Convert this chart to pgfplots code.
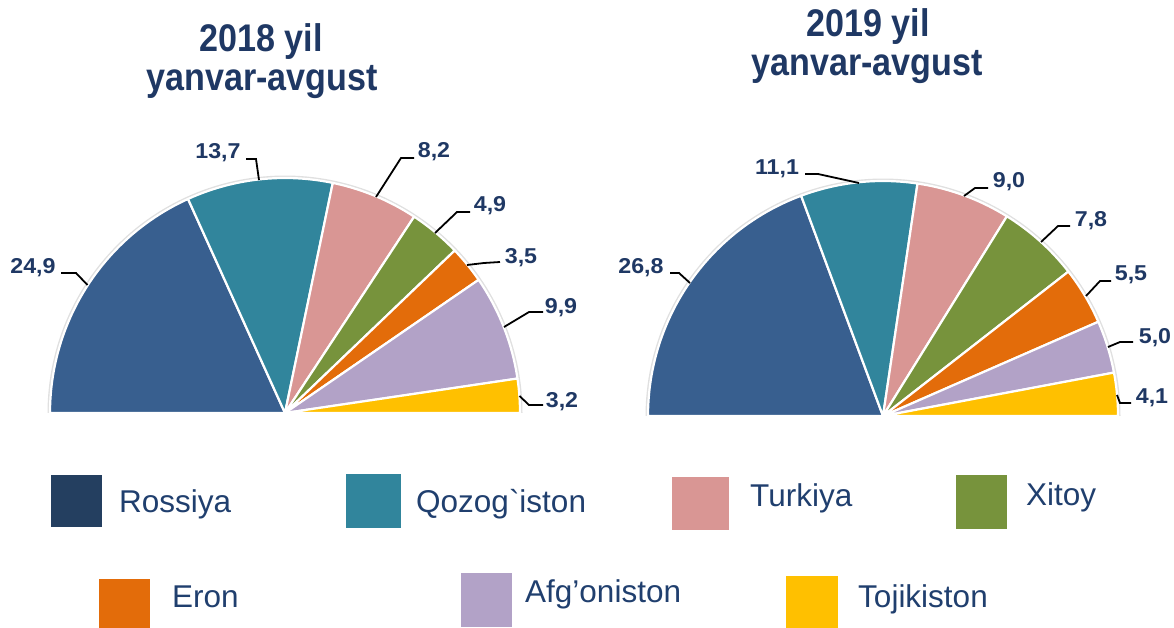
\documentclass[border=0pt]{standalone}
\usepackage{pgfplots}
\usepackage{pgfplotstable}
\pgfplotsset{compat=1.18}
\usepackage{fontspec}
\setmainfont{Liberation Sans}
\definecolor{c0}{HTML}{385F8F}
\definecolor{c1}{HTML}{31859C}
\definecolor{c2}{HTML}{D99694}
\definecolor{c3}{HTML}{77933C}
\definecolor{c4}{HTML}{E36C0A}
\definecolor{c5}{HTML}{B2A2C7}
\definecolor{c6}{HTML}{FFC000}
\definecolor{legR}{HTML}{243F60}
\definecolor{navy}{HTML}{1F3864}
\definecolor{legtxt}{HTML}{203F6E}

\pgfplotstableread{
country v2018 v2019
Rossiya 24.9 26.8
Qozogiston 13.7 11.1
Turkiya 8.2 9.0
Xitoy 4.9 7.8
Eron 3.5 5.5
Afgoniston 9.9 5.0
Tojikiston 3.2 4.1
}\data

\newcommand\drawpie[3]{% column, cx, cy
  \def\tot{0}%
  \pgfplotsforeachungrouped \i in {0,...,6}{%
    \pgfplotstablegetelem{\i}{#1}\of\data
    \pgfmathsetmacro\tot{\tot+\pgfplotsretval}}%
  \edef\tmp{\noexpand\addplot[draw=black!12, line width=5pt, domain=0:180, samples=120, variable=\noexpand\t] ({#2+235*cos(\noexpand\t)}, {#3-235*sin(\noexpand\t)});}%
  \tmp
  \def\cum{0}%
  \pgfplotsforeachungrouped \i in {0,...,6}{%
    \pgfplotstablegetelem{\i}{#1}\of\data
    \pgfmathsetmacro\aS{180-180*\cum/\tot}%
    \pgfmathsetmacro\cum{\cum+\pgfplotsretval}%
    \pgfmathsetmacro\aE{180-180*\cum/\tot}%
    \edef\tmp{\noexpand\addplot[fill=c\i, draw=white, line width=2.2pt, line join=round, domain=\aE:\aS, samples=80, variable=\noexpand\t] ({#2+235*cos(\noexpand\t)}, {#3-235*sin(\noexpand\t)}) -- (#2,#3) -- cycle;}%
    \tmp}%
}

\tikzset{
  val/.style={font=\fontsize{21.5}{26}\selectfont\bfseries, text=navy, anchor=base, inner sep=0pt, xscale=1.08},
  ttl/.style={font=\fontsize{38.5}{44}\selectfont\bfseries, text=navy, anchor=base, inner sep=0pt, xscale=0.886},
  leg/.style={font=\fontsize{31.5}{36}\selectfont, text=legtxt, anchor=base west, inner sep=0pt},
  ld/.style={black, line width=1.8pt}
}

\begin{document}
\begin{tikzpicture}
\begin{axis}[x=1pt, y=1pt, xmin=0, xmax=1174, ymin=0, ymax=628, y dir=reverse, hide axis, clip=false]
\drawpie{v2018}{285}{413}
\drawpie{v2019}{883}{416}

% titles
\node[ttl] at (261,52) {2018 yil};
\node[ttl] at (262,91) {yanvar-avgust};
\node[ttl] at (868,37) {2019 yil};
\node[ttl] at (867,76) {yanvar-avgust};

% 2018 labels
\draw[ld] (61,273) -- (76,273) -- (87.5,285);
\node[val] at (33,273) {24,9};
\draw[ld] (246,159) -- (256,159) -- (259,180);
\node[val] at (218,159) {13,7};
\draw[ld] (414,158) -- (401,158) -- (376,197);
\node[val] at (434,158) {8,2};
\draw[ld] (470,212) -- (457,212) -- (435,233);
\node[val] at (490,212) {4,9};
\draw[ld] (500,262) -- (484,263) -- (467,265);
\node[val] at (521,263) {3,5};
\draw[ld] (543,312) -- (529,312) -- (504,327);
\node[val] at (561,313) {9,9};
\draw[ld] (543,405) -- (529,405) -- (519.5,396);
\node[val] at (562,407) {3,2};

% 2019 labels
\draw[ld] (670,273) -- (679,273) -- (690,283);
\node[val] at (641,273) {26,8};
\draw[ld] (805,174) -- (818,174) -- (859,183);
\node[val] at (777,175) {11,1};
\draw[ld] (988,188) -- (975,188) -- (964,196);
\node[val] at (1009,188) {9,0};
\draw[ld] (1070,226) -- (1058,226) -- (1041,242);
\node[val] at (1091,226) {7,8};
\draw[ld] (1111,281) -- (1100,281) -- (1086,296);
\node[val] at (1131,280) {5,5};
\draw[ld] (1133,342) -- (1120,342) -- (1108,347);
\node[val] at (1155,343) {5,0};
\draw[ld] (1131,403) -- (1120,403) -- (1117,395);
\node[val] at (1152,403) {4,1};

% legend
\fill[legR] (51,475) rectangle (102,527);
\node[leg] at (119,512) {Rossiya};
\fill[c1] (346,474) rectangle (401,528);
\node[leg] at (416,512) {Qozog\textasciigrave iston};
\fill[c2] (672,477) rectangle (729,530);
\node[leg] at (750,506) {Turkiya};
\fill[c3] (956,475) rectangle (1007,529);
\node[leg] at (1026,505) {Xitoy};
\fill[c4] (99,579) rectangle (150,628);
\node[leg] at (172,607) {Eron};
\fill[c5] (461,573) rectangle (512,627);
\node[leg] at (525,602) {Afg’oniston};
\fill[c6] (786,576) rectangle (838,628);
\node[leg] at (858,607) {Tojikiston};
\end{axis}
\pgfresetboundingbox
\path (current axis.south west) rectangle (current axis.north east);
\end{tikzpicture}
\end{document}
